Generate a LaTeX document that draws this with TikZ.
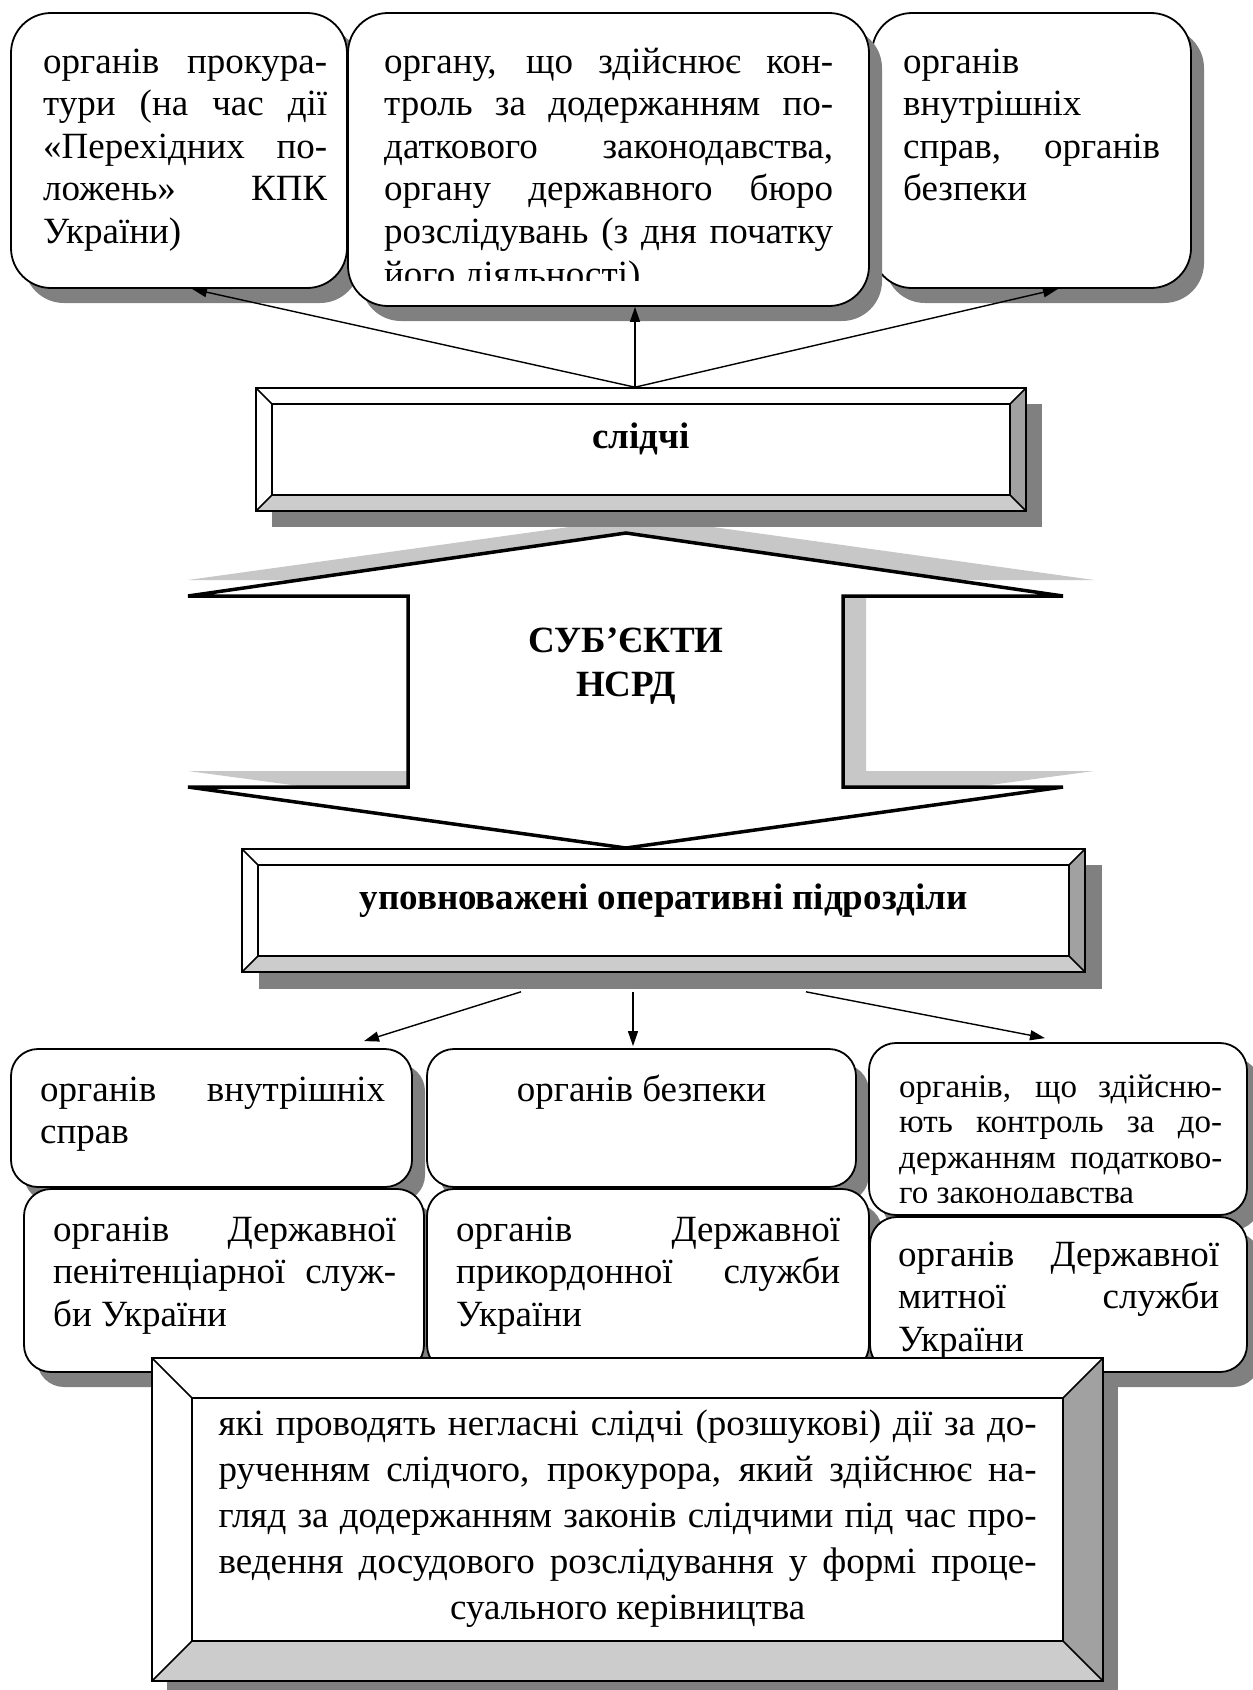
\documentclass[tikz,border=0pt]{standalone}
\usepackage{fontspec}
\setmainfont{Liberation Serif}
\usetikzlibrary{arrows.meta,shadows,calc}
\newcommand\mytf{\fontsize{37pt}{42.6pt}\selectfont}
\newcommand\mysmf{\fontsize{33pt}{35.5pt}\selectfont}
\newcommand\mybotf{\fontsize{37pt}{46.2pt}\selectfont}
\newcommand\mybf{\fontsize{37pt}{43pt}\selectfont\bfseries}
\newcommand\jl[1]{\makebox[\linewidth][s]{#1}}
\tikzset{
  rbox/.style={draw=black, fill=white, line width=1.8pt, rounded corners=40pt, inner sep=0pt,
     drop shadow={shadow xshift=13pt, shadow yshift=-15pt, fill=black!50, opacity=1}},
  rboxs/.style={rbox, rounded corners=27pt},
  arr/.style={line width=1.4pt, -{Triangle[length=15pt,width=10pt]}},
  txt/.style={inner sep=0pt, anchor=base west},
  ctxt/.style={inner sep=0pt, anchor=base},
  bevline/.style={line width=1.6pt, line join=miter},
  bevouter/.style={draw=black, line width=1.6pt, fill=white, inner sep=0pt},
  bevright/.style={fill=black!37},
  bevbottom/.style={fill=black!20},
  bshadow/.style={fill=black!50},
  ashadow/.style={fill=black!22},
}
\begin{document}
\begin{tikzpicture}[x=1pt,y=-1pt]
\useasboundingbox (0,0) rectangle (1253,1690);
\fill[white] (0,0) rectangle (1253,1690);

% ---------- top boxes ----------
\node[rbox, minimum width=336pt, minimum height=275pt] (tl) at (179,150.5) {};
\node[rbox, minimum width=319pt, minimum height=275pt] (tr) at (1031.5,150.5) {};
\node[rbox, minimum width=521pt, minimum height=293pt] (tm) at (608.5,159.5) {};

\node[txt] (tlT) at (43,73) {\parbox[t]{284pt}{\mytf\jl{органів прокура-}\\\jl{тури (на час дії}\\\jl{«Перехідних по-}\\\jl{ложень» КПК}\\України)}};
\begin{scope}
\clip (350,15) rectangle (866,280);
\node[txt] (tmT) at (384,73) {\parbox[t]{449pt}{\mytf\jl{органу, що здійснює кон-}\\\jl{троль за додержанням по-}\\\jl{даткового законодавства,}\\\jl{органу державного бюро}\\\jl{розслідувань (з дня початку}\\його діяльності)}};
\end{scope}
\node[txt] (trT) at (903,73) {\parbox[t]{257pt}{\mytf органів\\внутрішніх\\\jl{справ, органів}\\безпеки}};

% ---------- double arrow ----------
\fill[ashadow] (641,517) -- (188,580) -- (416,580) -- (416,771) -- (188,771) -- (641,832) -- (1094,771) -- (866,771) -- (866,580) -- (1094,580) -- cycle;
\draw[line width=3.5pt, fill=white, line join=miter] (626,533) -- (188,596) -- (408,596) -- (408,787) -- (188,787) -- (626,848) -- (1063,787) -- (843,787) -- (843,596) -- (1063,596) -- cycle;
\node[ctxt] (daT1) at (626,652) {\mybf СУБ’ЄКТИ};
\node[ctxt] (daT2) at (626,696) {\mybf НСРД};

% ---------- слідчі ----------
\fill[bshadow] (272,404) rectangle (1042,527);
\node[bevouter, minimum width=770pt, minimum height=123pt] (sl) at (641,449.5) {};
\fill[bevright] (1026,388) -- (1026,511) -- (1010,495) -- (1010,404) -- cycle;
\fill[bevbottom] (256,511) -- (1026,511) -- (1010,495) -- (272,495) -- cycle;
\draw[bevline] (256,388) rectangle (1026,511);
\draw[bevline] (272,404) rectangle (1010,495);
\draw[bevline] (256,388) -- (272,404) (1026,388) -- (1010,404) (256,511) -- (272,495) (1026,511) -- (1010,495);
\node[ctxt] (slT) at (641,448) {\mybf слідчі};

\draw[arr] ([xshift=-6pt]sl.north) -- ([xshift=13pt]tl.south);
\draw[arr] ([xshift=-6pt]sl.north) -- ([xshift=26.5pt]tm.south);
\draw[arr] ([xshift=-6pt]sl.north) -- ([xshift=26.5pt]tr.south);

% ---------- уповноважені ----------
\fill[bshadow] (259,865) rectangle (1102,989);
\node[bevouter, minimum width=843pt, minimum height=123pt] (up) at (663.5,910.5) {};
\fill[bevright] (1085,849) -- (1085,972) -- (1069,956) -- (1069,865) -- cycle;
\fill[bevbottom] (242,972) -- (1085,972) -- (1069,956) -- (258,956) -- cycle;
\draw[bevline] (242,849) rectangle (1085,972);
\draw[bevline] (258,865) rectangle (1069,956);
\draw[bevline] (242,849) -- (258,865) (1085,849) -- (1069,865) (242,972) -- (258,956) (1085,972) -- (1069,956);
\node[ctxt] (upT) at (663.5,909) {\mybf уповноважені оперативні підрозділи};

% ---------- lower boxes ----------
\node[rboxs, minimum width=401pt, minimum height=138pt] (ra) at (211.5,1118) {};
\node[txt] (raT) at (40,1101) {\parbox[t]{345pt}{\mytf\jl{органів внутрішніх}\\справ}};
\node[rboxs, minimum width=429pt, minimum height=138pt] (rb) at (641.5,1118) {};
\node[ctxt] (rbT) at (641.5,1101) {\mytf органів безпеки};
\node[rboxs, minimum width=378pt, minimum height=172pt] (rc) at (1058,1129) {};
\begin{scope}
\clip (872,1046) rectangle (1244,1202);
\node[txt] (rcT) at (899,1097) {\parbox[t]{323pt}{\mysmf\jl{органів, що здійсню-}\\\jl{ють контроль за до-}\\\jl{держанням податково-}\\го законодавства}};
\end{scope}
\node[rboxs, minimum width=400pt, minimum height=183pt] (rd) at (224,1280.5) {};
\node[txt] (rdT) at (53,1241) {\parbox[t]{343pt}{\mytf\jl{органів Державної}\\\jl{пенітенціарної служ-}\\би України}};
\node[rboxs, minimum width=442pt, minimum height=183pt] (re) at (648,1280.5) {};
\node[txt] (reT) at (456,1241) {\parbox[t]{384pt}{\mytf\jl{органів Державної}\\\jl{прикордонної служби}\\України}};
\node[rboxs, minimum width=377pt, minimum height=155pt] (rf) at (1058.5,1294.5) {};
\node[txt] (rfT) at (898,1266) {\parbox[t]{321pt}{\mytf\jl{органів Державної}\\\jl{митної служби}\\України}};

\draw[arr] ([xshift=-142.5pt,yshift=-19pt]up.south) -- ([xshift=152.5pt,yshift=7pt]ra.north);
\draw[arr] ([xshift=-30.5pt,yshift=-19pt]up.south) -- ([xshift=-8.5pt,yshift=2pt]rb.north);
\draw[arr] ([xshift=142.5pt,yshift=-19pt]up.south) -- ([xshift=-13pt,yshift=4pt]rc.north);

% ---------- bottom bevel box ----------
\fill[bshadow] (167,1373) rectangle (1118,1696);
\node[bevouter, minimum width=951pt, minimum height=323pt] (bb) at (627.5,1519.5) {};
\fill[bevright] (1103,1358) -- (1103,1681) -- (1063,1641) -- (1063,1398) -- cycle;
\fill[bevbottom] (152,1681) -- (1103,1681) -- (1063,1641) -- (192,1641) -- cycle;
\draw[bevline] (152,1358) rectangle (1103,1681);
\draw[bevline] (192,1398) rectangle (1063,1641);
\draw[bevline] (152,1358) -- (192,1398) (1103,1358) -- (1063,1398) (152,1681) -- (192,1641) (1103,1681) -- (1063,1641);
\node[txt] (bbT) at (218.5,1435) {\parbox[t]{818pt}{\mybotf\jl{які проводять негласні слідчі (розшукові) дії за до-}\\\jl{рученням слідчого, прокурора, який здійснює на-}\\\jl{гляд за додержанням законів слідчими під час про-}\\\jl{ведення досудового розслідування у формі проце-}\\\makebox[\linewidth][c]{суального керівництва}}};
\end{tikzpicture}
\end{document}
